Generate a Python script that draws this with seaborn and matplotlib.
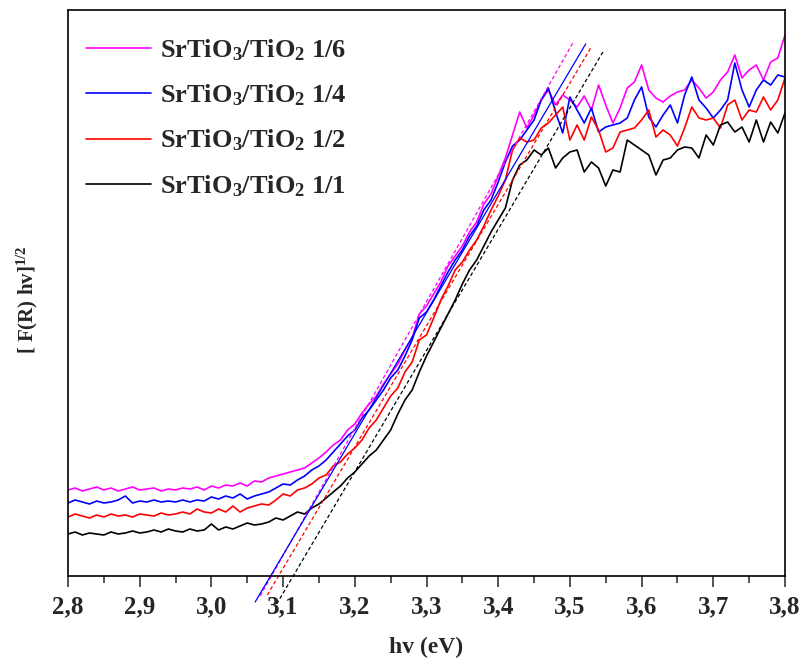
import numpy as np
import pandas as pd
import seaborn as sns
import matplotlib.pyplot as plt
from matplotlib.ticker import MultipleLocator, FuncFormatter

# photon energy axis (eV), 0.01 step
hv = np.round(np.arange(2.80, 3.805, 0.01), 2)

# [F(R) hv]^1/2 in arbitrary units
sr_1_6 = [86, 88, 85, 87, 89, 86, 88, 85, 87, 89, 86, 87, 88, 85, 87, 86, 88, 87, 89, 86,
          90, 88, 91, 90, 93, 90, 95, 94, 98, 100,
          102, 104, 106, 108, 113, 118, 124, 131, 136, 146,
          152, 163, 172, 180, 192, 202, 212, 226, 238, 262,
          270, 282, 294, 310, 320, 330, 344, 354, 372, 382,
          400, 418,
          441, 464, 448, 461, 476, 486, 471, 481,
          476, 469, 480, 466, 491, 471, 453, 468, 488, 494,
          511, 486, 478, 474, 480, 484, 486, 496, 488, 478,
          484, 496, 504, 521, 498, 506, 511, 496, 514, 518, 541]

sr_1_4 = [73, 76, 74, 72, 75, 73, 74, 76, 80, 73, 75, 74, 76, 74, 75, 74, 76, 74, 76, 75,
          79, 77, 80, 78, 82, 77, 80, 82, 84, 88,
          92, 91, 96, 100, 106, 110, 116, 124, 132, 140,
          146, 158, 166, 176, 186, 198, 206, 220, 236, 258,
          264, 276, 290, 304, 316, 326, 340, 350, 366, 376,
          394, 414, 430,
          436, 446, 456, 476, 488, 464, 443,
          479, 466, 453, 468, 444, 449, 451, 453, 458, 476,
          489, 459, 449, 461, 471, 453, 481, 499, 476, 468,
          458, 466, 476, 513, 486, 469, 486, 496, 491, 501, 499]

sr_1_2 = [59, 62, 60, 58, 61, 59, 62, 60, 61, 59, 62, 61, 60, 63, 61, 62, 64, 62, 67, 64,
          63, 67, 64, 70, 64, 68, 70, 72, 71, 76,
          82, 80, 86, 88, 92, 98, 101, 110, 114, 122,
          128, 136, 148, 156, 168, 180, 188, 204, 214, 236,
          241, 258, 276, 290, 306, 314, 326, 336, 350, 366,
          380, 396,
          426, 438, 434, 436, 448, 453, 461, 469,
          436, 451, 436, 459, 446, 424, 428, 444, 446, 448,
          456, 466, 439, 446, 441, 430, 448, 469, 458, 456,
          458, 448, 471, 476, 456, 466, 464, 479, 466, 476, 498]

sr_1_1 = [42, 44, 41, 43, 42, 41, 44, 42, 43, 45, 43, 44, 46, 44, 47, 45, 44, 47, 45, 46,
          52, 46, 49, 47, 50, 53, 51, 52, 54, 58,
          56, 60, 64, 62, 68, 72, 78, 84, 90, 98,
          104, 112, 120, 126, 136, 146, 162, 176, 186, 204,
          220, 234, 248, 262, 276, 292, 306, 316, 330, 344,
          356, 368, 396, 411,
          416, 426, 421, 428, 408, 418,
          424, 426, 404, 414, 408, 390, 406, 404, 436, 431,
          426, 421, 401, 416, 418, 426, 429, 428, 418, 441,
          431, 451, 454, 444, 449, 434, 456, 434, 454, 443, 463]

labels = [r'SrTiO$_3$/TiO$_2$ 1/6', r'SrTiO$_3$/TiO$_2$ 1/4',
          r'SrTiO$_3$/TiO$_2$ 1/2', r'SrTiO$_3$/TiO$_2$ 1/1']
colors = ['#ff00ff', '#0000ff', '#ff0000', '#000000']

# linear fits (tangents) used for the band gap, two end points each
fit_x = [[3.068, 3.504], [3.061, 3.522], [3.078, 3.529], [3.091, 3.546]]
fit_y = [[-20, 533], [-26, 532], [-19, 528], [-28, 524]]
fit_styles = ['--', '-', '--', '--']

if __name__ == '__main__':
    sns.set_style('ticks')
    plt.rcParams['font.family'] = ['Liberation Serif', 'DejaVu Serif']
    plt.rcParams['font.weight'] = 'bold'
    plt.rcParams['mathtext.fontset'] = 'custom'
    plt.rcParams['mathtext.rm'] = 'Liberation Serif:bold'
    plt.rcParams['mathtext.bf'] = 'Liberation Serif:bold'
    plt.rcParams['mathtext.it'] = 'Liberation Serif:bold'
    plt.rcParams['mathtext.default'] = 'rm'

    df = pd.DataFrame({
        'hv': np.tile(hv, 4),
        'val': sr_1_6 + sr_1_4 + sr_1_2 + sr_1_1,
        'sample': np.repeat(labels, len(hv)),
    })

    fig = plt.figure(figsize=(8.01, 6.6), dpi=100)
    ax = fig.add_axes([68 / 801, 84 / 660, 717 / 801, 566 / 660])

    sns.lineplot(data=df, x='hv', y='val', hue='sample', hue_order=labels,
                 palette=colors, linewidth=1.2, ax=ax)

    # tangent lines run past the bottom axis
    for fx, fy, c, ls in zip(fit_x, fit_y, colors, fit_styles):
        ax.plot(fx, fy, color=c, linestyle=ls, linewidth=0.9,
                dashes=(3, 2) if ls == '--' else (None, None), clip_on=False)

    ax.set_xlim(2.8, 3.8)
    ax.set_ylim(0, 566)
    ax.set_yticks([])
    ax.xaxis.set_major_locator(MultipleLocator(0.1))
    ax.xaxis.set_minor_locator(MultipleLocator(0.05))
    ax.xaxis.set_major_formatter(FuncFormatter(lambda v, p: f'{v:.1f}'.replace('.', ',')))
    ax.tick_params(axis='x', which='major', direction='out', length=8, width=1.1,
                   labelsize=18, pad=6)
    ax.tick_params(axis='x', which='minor', direction='out', length=5, width=1.1)
    for s in ax.spines.values():
        s.set_visible(True)
        s.set_linewidth(1.2)
        s.set_color('black')

    ax.set_xlabel('hv (eV)', fontsize=17, fontweight='bold', labelpad=13)
    ax.set_ylabel(r'[ F(R) hv]$^{1/2}$', fontsize=15, fontweight='bold')
    ax.yaxis.set_label_coords(-0.039, 0.488)

    leg = ax.legend(loc='upper left', frameon=False, fontsize=19, handlelength=2.46,
                    labelspacing=0.74, borderaxespad=0, handletextpad=0.34,
                    bbox_to_anchor=(0.0105, 0.970))
    for line in leg.get_lines():
        line.set_linewidth(1.2)

    plt.savefig('out.png', dpi=100)
    plt.close('all')
